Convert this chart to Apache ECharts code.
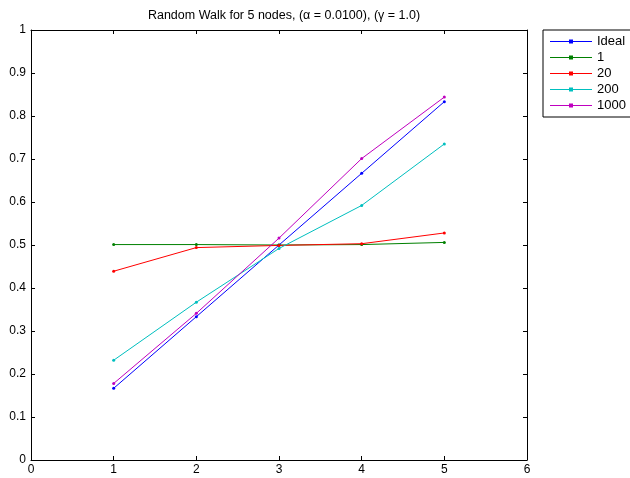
<!DOCTYPE html>
<html>
<head>
<meta charset="utf-8">
<script src="https://cdn.jsdelivr.net/npm/echarts@6/dist/echarts.min.js"></script>
<style>
  html, body { margin: 0; padding: 0; background: #fff; }
  #chart { width: 630px; height: 478px; }
</style>
</head>
<body>
<div id="chart"></div>
<script>
var steps = [1, 2, 3, 4, 5];
var ideal = [0.1667, 0.3333, 0.5, 0.6667, 0.8333];
var walk1 = [0.501, 0.501, 0.500, 0.501, 0.506];
var walk20 = [0.439, 0.494, 0.499, 0.503, 0.528];
var walk200 = [0.232, 0.367, 0.492, 0.592, 0.735];
var walk1000 = [0.178, 0.341, 0.516, 0.701, 0.844];
var seriesNames = ['Ideal', '1', '20', '200', '1000'];
var seriesColors = ['#0000ff', '#008000', '#ff0000', '#00bfbf', '#bf00bf'];
var allData = [ideal, walk1, walk20, walk200, walk1000];

var dom = document.getElementById('chart');
var myChart = echarts.init(dom, null, { renderer: 'canvas' });

var font = 'Liberation Sans, Arial, sans-serif';

function pairs(arr) {
  return steps.map(function (x, i) { return [x, arr[i]]; });
}

var series = allData.map(function (d, i) {
  return {
    name: seriesNames[i],
    type: 'line',
    data: pairs(d),
    symbol: 'circle',
    symbolSize: 3,
    showSymbol: true,
    color: seriesColors[i],
    lineStyle: { width: 1, color: seriesColors[i] },
    itemStyle: { color: seriesColors[i] },
    animation: false
  };
});

// box axes: bottom/left carry labels, top/right only ticks
function boxAxis(extra) {
  var base = {
    type: 'value',
    axisLine: { show: true, onZero: false, lineStyle: { color: '#000', width: 1 } },
    axisTick: { show: true, inside: true, length: 4, lineStyle: { color: '#000' } },
    splitLine: { show: false }
  };
  for (var k in extra) base[k] = extra[k];
  return base;
}

// legend key: thin line with a small dot in the middle
var legendIcon = 'path://M0,1.5L42,1.5L42,2.5L0,2.5Z M19,0L23,0L23,4L19,4Z';

var option = {
  backgroundColor: '#fff',
  title: {
    text: 'Random Walk for 5 nodes, (\u03b1 = 0.0100), (\u03b3 = 1.0)',
    left: 279,
    textAlign: 'center',
    top: 4,
    textStyle: { fontFamily: font, fontSize: 12.5, fontWeight: 'normal', color: '#000' }
  },
  legend: {
    orient: 'vertical',
    left: 543,
    top: 30,
    padding: [5, 10, 5, 7],
    itemGap: 3,
    itemWidth: 42,
    itemHeight: 14,
    itemStyle: { borderWidth: 0 },
    borderColor: '#000',
    borderWidth: 1,
    borderRadius: 0,
    textStyle: { fontFamily: font, fontSize: 13, color: '#000' },
    data: seriesNames.map(function (n) { return { name: n, icon: legendIcon }; })
  },
  grid: { left: 31, right: 103, top: 30, bottom: 18, containLabel: false },
  xAxis: [
    boxAxis({ min: 0, max: 6, interval: 1,
      axisLabel: { fontFamily: font, fontSize: 12, color: '#000', margin: 4 } }),
    boxAxis({ min: 0, max: 6, interval: 1, position: 'top', axisLabel: { show: false } })
  ],
  yAxis: [
    boxAxis({ min: 0, max: 1, interval: 0.1,
      axisLabel: {
        fontFamily: font, fontSize: 12, color: '#000', margin: 5,
        formatter: function (v) { return String(Math.round(v * 10) / 10); }
      } }),
    boxAxis({ min: 0, max: 1, interval: 0.1, position: 'right', axisLabel: { show: false } })
  ],
  series: series
};

if (option && typeof option === 'object') {
  myChart.setOption(option);
}

window.addEventListener('resize', myChart.resize);
</script>
</body>
</html>
